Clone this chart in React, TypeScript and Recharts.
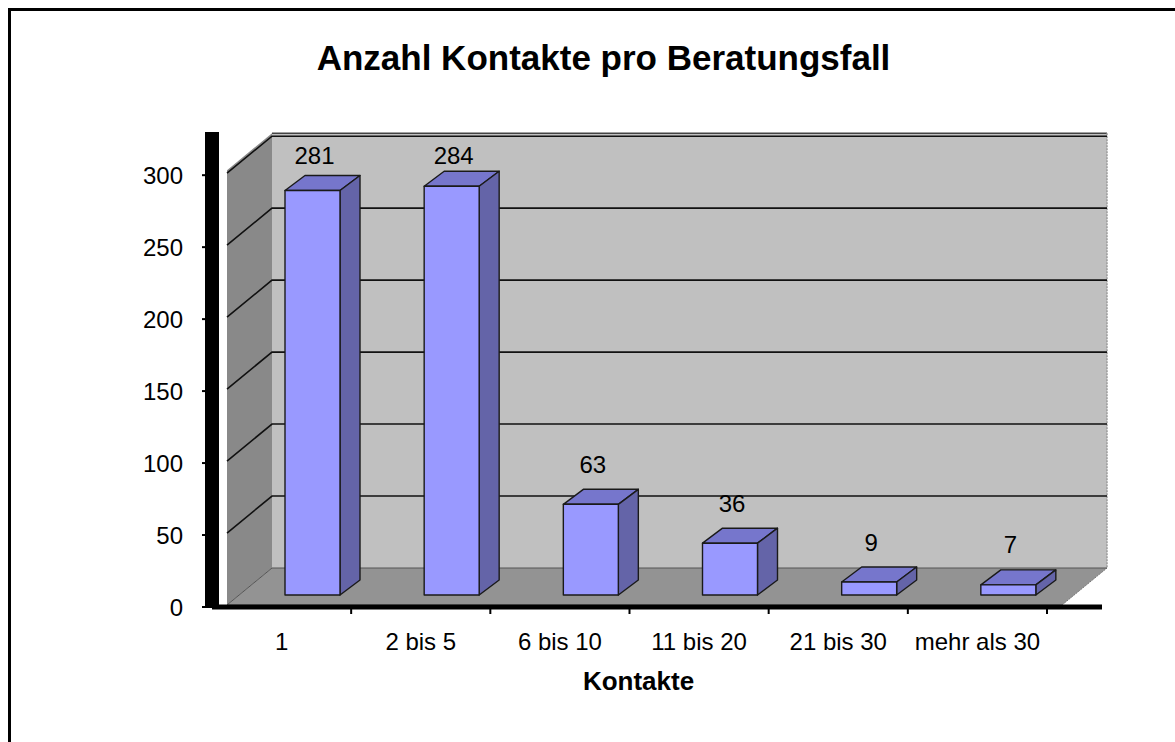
import React from "react";
import {
  BarChart,
  Bar,
  XAxis,
  YAxis,
  ReferenceArea,
  LabelList,
} from "recharts";

// data
const categories = ["1", "2 bis 5", "6 bis 10", "11 bis 20", "21 bis 30", "mehr als 30"];
const counts = [281, 284, 63, 36, 9, 7];
const yTicks = [0, 50, 100, 150, 200, 250, 300];

const data = categories.map((name, i) => ({ name, count: counts[i] }));

const FONT = '"Liberation Sans", Arial, Helvetica, sans-serif';

// layout
const CHART_W = 1175;
const CHART_H = 742;
const MARGIN = { top: 132, right: 73, bottom: 35, left: 132 };
const Y_AXIS_W = 80;
const X_AXIS_H = 100;
const PAD_RIGHT = 55;
const TICK_GAP = 26;
const PLOT_LEFT = MARGIN.left + Y_AXIS_W;
const PLOT_RIGHT = CHART_W - MARGIN.right;
const BAND = (PLOT_RIGHT - PLOT_LEFT - PAD_RIGHT) / categories.length;

// fake 3d offsets (px)
const BOX_DX = 15; // walls/floor front edge vs axes
const BOX_DY = -2;
const WALL_DX = 45; // depth of the walls
const WALL_DY = -37;
const BAR_DX = 31; // bar front face vs its slot
const BAR_DY = -12;
const DEPTH_X = 20; // depth of a bar
const DEPTH_Y = -15;

const pts = (arr: number[][]) => arr.map((p) => p.join(",")).join(" ");

// back wall, side wall, floor and gridlines, drawn from the area of 0..300
// (the area spans the category range, without the right padding)
const Walls = (props: any) => {
  const { x, y, width, height } = props;
  const top = yTicks[yTicks.length - 1];
  const L = x + BOX_DX;
  const R = x + width + BOX_DX;
  const B = y + height + BOX_DY;
  const T = y + BOX_DY - 3;
  const yOf = (v: number) => y + height - (v / top) * height + BOX_DY;

  return (
    <g>
      <polygon
        points={pts([
          [L + WALL_DX, T + WALL_DY],
          [R + WALL_DX, T + WALL_DY],
          [R + WALL_DX, B + WALL_DY],
          [L + WALL_DX, B + WALL_DY],
        ])}
        fill="#c0c0c0"
      />
      <polygon
        points={pts([
          [L, T],
          [L + WALL_DX, T + WALL_DY],
          [L + WALL_DX, B + WALL_DY],
          [L, B],
        ])}
        fill="#898989"
      />
      <polygon
        points={pts([
          [L, B],
          [R, B],
          [R + WALL_DX, B + WALL_DY],
          [L + WALL_DX, B + WALL_DY],
        ])}
        fill="#939393"
      />
      <line x1={L + WALL_DX} y1={T + WALL_DY} x2={R + WALL_DX} y2={T + WALL_DY} stroke="#444" strokeWidth={1.5} />
      <line x1={R + WALL_DX} y1={T + WALL_DY} x2={R + WALL_DX} y2={B + WALL_DY} stroke="#999" strokeWidth={1.5} strokeDasharray="2 1" />
      <line x1={L} y1={B} x2={R} y2={B} stroke="#666" strokeWidth={1} />
      <line x1={R} y1={B} x2={R + WALL_DX} y2={B + WALL_DY} stroke="#777" strokeWidth={1} strokeDasharray="2 1" />
      {yTicks.map((v) => {
        const yy = yOf(v);
        return (
          <polyline
            key={v}
            points={pts([
              [L, yy],
              [L + WALL_DX, yy + WALL_DY],
              [R + WALL_DX, yy + WALL_DY],
            ])}
            fill="none"
            stroke={v === 0 ? "#555" : "#111"}
            strokeWidth={v === 0 ? 1 : 1.6}
          />
        );
      })}
    </g>
  );
};

const Box3D = (props: any) => {
  const { x, y, width, height } = props;
  if (x == null || height == null) return null;
  const fx = x + BAR_DX;
  const fy = y + BAR_DY;
  const topFace = pts([
    [fx, fy],
    [fx + DEPTH_X, fy + DEPTH_Y],
    [fx + width + DEPTH_X, fy + DEPTH_Y],
    [fx + width, fy],
  ]);
  const sideFace = pts([
    [fx + width, fy],
    [fx + width + DEPTH_X, fy + DEPTH_Y],
    [fx + width + DEPTH_X, fy + height + DEPTH_Y],
    [fx + width, fy + height],
  ]);
  return (
    <g stroke="#1a1a1a" strokeWidth={1.4} strokeLinejoin="round">
      <polygon points={topFace} fill="#7676cc" />
      <polygon points={sideFace} fill="#6464a8" />
      <rect x={fx} y={fy} width={width} height={height} fill="#9999ff" />
    </g>
  );
};

const ValueLabel = (props: any) => {
  const { x, y, width, value } = props;
  return (
    <text
      x={x + width / 2 + BAR_DX + 2}
      y={Math.max(y + BAR_DY - 40, 155)}
      textAnchor="middle"
      dominantBaseline="central"
      fontSize={24}
      fontFamily={FONT}
      fill="#000"
    >
      {value}
    </text>
  );
};

const CategoryTick = (props: any) => {
  const { x, y, payload } = props;
  const axisY = y - TICK_GAP;
  const mark = x + BAND / 2;
  return (
    <g>
      <line x1={mark} y1={axisY + 2} x2={mark} y2={axisY + 7} stroke="#000" strokeWidth={2} />
      <text x={x} y={y} dy="0.71em" textAnchor="middle" fontSize={24} fontFamily={FONT} fill="#000">
        {payload.value}
      </text>
    </g>
  );
};

const AxisTitle = (props: any) => {
  const vb = props.viewBox;
  return (
    <text
      x={vb.x + (vb.width - PAD_RIGHT) / 2 + 9}
      y={vb.y + 83}
      textAnchor="middle"
      fontSize={26}
      fontWeight="bold"
      fontFamily={FONT}
      fill="#000"
    >
      Kontakte
    </text>
  );
};

export default function App() {
  return (
    <div
      style={{
        position: "absolute",
        left: 0,
        top: 0,
        width: CHART_W,
        height: CHART_H,
        overflow: "hidden",
        background: "#fff",
        fontFamily: FONT,
      }}
    >
      <div
        style={{
          position: "absolute",
          left: 8,
          top: 8,
          width: 1300,
          height: 900,
          border: "3px solid #000",
        }}
      />
      <div
        style={{
          position: "absolute",
          left: 16,
          top: 40,
          width: CHART_W,
          textAlign: "center",
          fontSize: 35,
          lineHeight: "36px",
          fontWeight: "bold",
          color: "#000",
        }}
      >
        Anzahl Kontakte pro Beratungsfall
      </div>
      <div style={{ position: "absolute", left: 0, top: 0 }}>
        <BarChart width={CHART_W} height={CHART_H} data={data} margin={MARGIN}>
          <ReferenceArea y1={0} y2={yTicks[yTicks.length - 1]} shape={Walls} ifOverflow="visible" />
          <XAxis
            dataKey="name"
            height={X_AXIS_H}
            interval={0}
            padding={{ left: 0, right: PAD_RIGHT }}
            axisLine={{ stroke: "#000", strokeWidth: 5 }}
            tickLine={false}
            tickSize={0}
            tickMargin={TICK_GAP}
            tick={<CategoryTick />}
            label={{ content: <AxisTitle /> }}
          />
          <YAxis
            width={Y_AXIS_W}
            domain={[0, 330]}
            ticks={yTicks}
            interval={0}
            axisLine={{ stroke: "#000", strokeWidth: 14 }}
            tickLine={{ stroke: "#000", strokeWidth: 2 }}
            tickSize={10}
            tickMargin={19}
            tick={{ fontSize: 24, fill: "#000", fontFamily: FONT }}
          />
          <Bar dataKey="count" barSize={55} shape={<Box3D />} isAnimationActive={false}>
            <LabelList dataKey="count" content={<ValueLabel />} />
          </Bar>
        </BarChart>
      </div>
    </div>
  );
}
